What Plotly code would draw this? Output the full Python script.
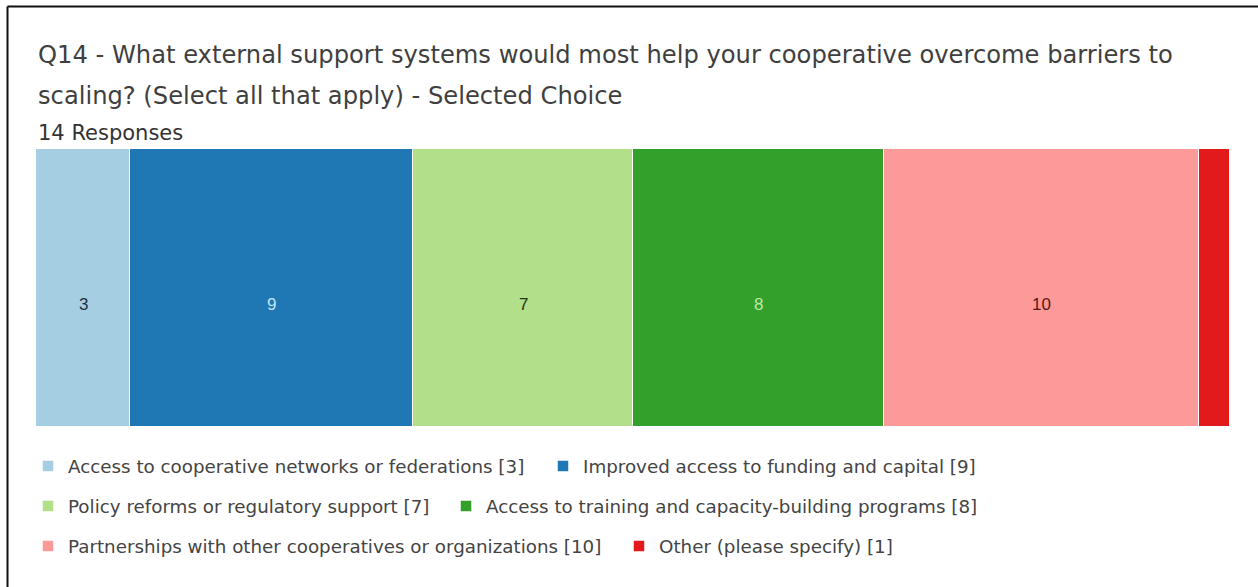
import plotly.graph_objects as go

# Survey answers (Q14, multiple selection) and their counts
categories = [
    "Access to cooperative networks or federations",
    "Improved access to funding and capital",
    "Policy reforms or regulatory support",
    "Access to training and capacity-building programs",
    "Partnerships with other cooperatives or organizations",
    "Other (please specify)",
]
counts = [3, 9, 7, 8, 10, 1]

title_lines = [
    "Q14 - What external support systems would most help your cooperative overcome barriers to",
    "scaling? (Select all that apply) - Selected Choice",
]
responses_label = "14 Responses"

colors = ["#a6cee3", "#1f78b4", "#b2df8a", "#33a02c", "#fb9a99", "#e31a1c"]
label_colors = ["#1d3444", "#c4e2f2", "#24351a", "#bdeaa6", "#5e1414", "#ffffff"]

W, H = 1258, 587
L, R, T, B = 36, 28, 149, 160
plot_w = W - L - R
plot_h = H - T - B
total = sum(counts)

# legend entries: two per row, each entry has its own legend box (left px, row centre px)
legend_ids = ["legend", "legend2", "legend3", "legend4", "legend5", "legend6"]
legend_pos = [(28, 466), (543, 466), (28, 506), (446, 506), (28, 546), (619, 546)]

fig = go.Figure()
for cat, val, col, lid in zip(categories, counts, colors, legend_ids):
    fig.add_trace(go.Bar(
        x=[val], y=[0], orientation="h",
        name=f"{cat} [{val}]",
        marker=dict(color=col, line=dict(color="#ffffff", width=1.5)),
        legend=lid,
        hovertemplate=f"{cat}: %{{x}}<extra></extra>",
    ))

# value labels centred in each segment (skipped where the segment is too narrow)
annotations = []
left = 0
for val, lc in zip(counts, label_colors):
    mid = left + val / 2
    left += val
    if val / total * plot_w < 40:
        continue
    annotations.append(dict(
        x=mid, y=0, xref="x", yref="y", text=str(val), showarrow=False,
        yshift=-16, font=dict(family="Liberation Sans, Arial", size=17, color=lc),
    ))


def py(px):
    # pixel row (from top of page) -> paper y
    return (H - B - px) / plot_h


def pxx(px):
    return (px - L) / plot_w


title_font = dict(family="DejaVu Sans", size=24.2, color="#3f3f3f")
annotations.append(dict(x=0, y=py(55), xref="paper", yref="paper", xanchor="left",
                        yanchor="middle", text=title_lines[0], showarrow=False, font=title_font))
annotations.append(dict(x=0, y=py(96), xref="paper", yref="paper", xanchor="left",
                        yanchor="middle", text=title_lines[1], showarrow=False, font=title_font))
annotations.append(dict(x=0, y=py(133), xref="paper", yref="paper", xanchor="left",
                        yanchor="middle", text=responses_label, showarrow=False,
                        font=dict(family="DejaVu Sans", size=21, color="#333333")))

# frame lines along the top and left edges
shapes = [
    dict(type="line", xref="paper", yref="paper", x0=pxx(7.5), x1=pxx(W + 2),
         y0=py(6.5), y1=py(6.5), line=dict(color="#111111", width=2)),
    dict(type="line", xref="paper", yref="paper", x0=pxx(7.5), x1=pxx(7.5),
         y0=py(6.5), y1=py(H + 2), line=dict(color="#111111", width=2)),
]

legend_font = dict(family="DejaVu Sans", size=18.3, color="#444444")


def legend_box(xpx, ypx):
    return dict(orientation="h", xref="container", yref="container",
                x=xpx / W, y=1 - ypx / H, xanchor="left", yanchor="middle",
                font=legend_font, bgcolor="rgba(0,0,0,0)",
                itemclick=False, itemdoubleclick=False)


legends = {lid: legend_box(x, y) for lid, (x, y) in zip(legend_ids, legend_pos)}

fig.update_layout(
    width=W, height=H,
    margin=dict(l=L, r=R, t=T, b=B),
    paper_bgcolor="#ffffff", plot_bgcolor="#ffffff",
    barmode="stack", bargap=0,
    xaxis=dict(range=[0, total], visible=False, fixedrange=True),
    yaxis=dict(range=[-0.5, 0.5], visible=False, fixedrange=True),
    showlegend=True,
    annotations=annotations,
    shapes=shapes,
    **legends,
)

fig.write_html("out.html")
